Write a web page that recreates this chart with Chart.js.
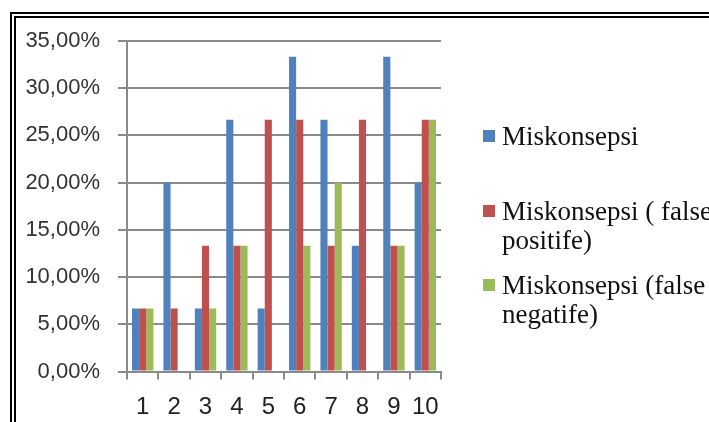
<!DOCTYPE html>
<html>
<head>
<meta charset="utf-8">
<script src="https://cdn.jsdelivr.net/npm/chart.js@4/dist/chart.umd.min.js"></script>
<style>
  html, body { margin: 0; padding: 0; background: #fff; width: 709px; height: 422px; overflow: hidden; }
  #frame { position: absolute; left: 10px; top: 12px; width: 760px; height: 480px; border: 6px double #000; box-sizing: border-box; }
  #wrap { position: absolute; left: 0; top: 0; width: 709px; height: 422px; }
  #legend { position: absolute; left: 483px; top: 0; font-family: "Liberation Serif", "Times New Roman", serif; font-size: 27px; color: #111; }
  .item { position: absolute; left: 0; white-space: nowrap; }
  .box { position: absolute; left: 0; width: 12px; height: 12px; }
  .txt { position: absolute; left: 19px; line-height: 29px; }
</style>
</head>
<body>
<div id="frame"></div>
<div id="wrap"><canvas id="c" width="709" height="422"></canvas></div>
<div id="legend"></div>
<script>
// Question numbers on the x axis
const categories = ["1", "2", "3", "4", "5", "6", "7", "8", "9", "10"];

// Share of students per question, in percent
const miskonsepsi        = [6.67, 20.00, 6.67, 26.67, 6.67, 33.33, 26.67, 13.33, 33.33, 20.00];
const falsePositif       = [6.67, 6.67, 13.33, 13.33, 26.67, 26.67, 13.33, 26.67, 13.33, 26.67];
const falseNegatif       = [6.67, 0.00, 6.67, 13.33, 0.00, 13.33, 20.00, 0.00, 13.33, 26.67];

// Series names (legend lines)
const seriesNames = [
  ["Miskonsepsi"],
  ["Miskonsepsi ( false", "positife)"],
  ["Miskonsepsi (false", "negatife)"]
];
const seriesColors = ["#4F81BD", "#C0504D", "#9BBB59"];

// Y axis ticks: 0 .. 35 in steps of 5
const yTicks = [0, 5, 10, 15, 20, 25, 30, 35];

const seriesValues = [miskonsepsi, falsePositif, falseNegatif];

const gridColor = "#8a8a8a";

new Chart(document.getElementById("c"), {
  type: "bar",
  data: {
    labels: categories,
    datasets: seriesValues.map((vals, i) => ({
      label: seriesNames[i].join(" "),
      data: vals,
      backgroundColor: seriesColors[i],
      borderWidth: 0,
      categoryPercentage: 0.68,
      barPercentage: 1.0
    }))
  },
  options: {
    responsive: false,
    animation: false,
    devicePixelRatio: 1,
    layout: { padding: { left: 0, right: 268, top: 41, bottom: 0 } },
    plugins: { legend: { display: false }, tooltip: { enabled: false } },
    scales: {
      x: {
        grid: { drawOnChartArea: false, drawTicks: true, tickLength: 8, color: gridColor, lineWidth: 2, offset: true },
        border: { display: true, color: gridColor, width: 2 },
        ticks: { color: "#222", font: { family: "Liberation Sans", size: 24 }, padding: 13, maxRotation: 0, autoSkip: false },
        afterFit: (s) => { s.height = 50.5; }
      },
      y: {
        min: 0,
        max: 35,
        afterBuildTicks: (s) => { s.ticks = yTicks.map(v => ({ value: v })); },
        grid: { drawOnChartArea: true, drawTicks: true, tickLength: 9, color: gridColor, lineWidth: 2 },
        border: { display: true, color: gridColor, width: 2 },
        ticks: {
          color: "#333",
          font: { family: "Liberation Sans", size: 22 },
          padding: 18,
          callback: (v) => v.toFixed(2).replace(".", ",") + "%"
        },
        afterFit: (s) => { s.width = 127; }
      }
    }
  }
});

// Legend built from the series names and colours
const legend = document.getElementById("legend");
const itemTops = [122, 197, 271];
seriesNames.forEach((lines, i) => {
  const item = document.createElement("div");
  item.className = "item";
  item.style.top = itemTops[i] + "px";
  const box = document.createElement("div");
  box.className = "box";
  box.style.background = seriesColors[i];
  box.style.top = "8px";
  const txt = document.createElement("div");
  txt.className = "txt";
  txt.innerHTML = lines.map(l => l.replace(/&/g, "&amp;").replace(/</g, "&lt;")).join("<br>");
  item.appendChild(box);
  item.appendChild(txt);
  legend.appendChild(item);
});
</script>
</body>
</html>
